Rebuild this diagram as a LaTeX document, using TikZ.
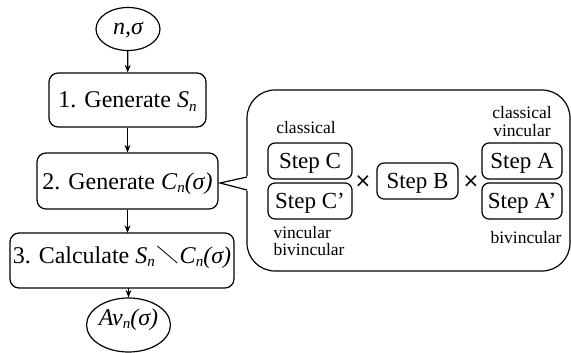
\documentclass[tikz,border=0pt]{standalone}
\usepackage{fontspec}
\setmainfont{Liberation Serif}
\newfontfamily\symfont{DejaVu Sans}
\usetikzlibrary{shapes.geometric,arrows.meta}
\newcommand\sbs[1]{\raisebox{-3pt}{\fontsize{15}{15}\selectfont\itshape #1}}
\newcommand\slantbar{\kern2pt\tikz[baseline=0pt]\draw[line width=0.8pt] (0pt,17pt) -- (20pt,0pt);\kern2pt}
\begin{document}
\begin{tikzpicture}[x=1pt,y=-1pt, line width=1.2pt,
  big/.style={font=\fontsize{24}{26}\selectfont},
  proc/.style={draw, rounded corners=9pt, big, inner sep=0pt, text height=16pt, text depth=0pt},
  stepbox/.style={draw, rounded corners=7pt, inner sep=0pt, minimum height=36pt, font=\fontsize{23}{25}\selectfont, text height=15pt, text depth=0pt},
  term/.style={draw, ellipse, inner sep=0pt, big},
  lbl/.style={font=\fontsize{17.5}{14}\selectfont, inner sep=0pt, anchor=base},
  arr/.style={-{Stealth[length=7.5pt,width=6pt]}},
  timesym/.style={font=\symfont\fontsize{20}{20}\selectfont, inner sep=0pt}
]
\useasboundingbox (0,0) rectangle (571,353);

% left flow
\node[term, minimum width=64pt, minimum height=43pt, text height=11pt, text depth=0pt] (in) at (128,29) {\itshape n,σ};
\node[proc, minimum width=157pt, minimum height=54pt] (b1) at (127.5,100) {1. Generate \textit{S}\sbs{n}};
\node[proc, minimum width=181pt, minimum height=56pt] (b2) at (127.5,181) {2. Generate \textit{C}\sbs{n}\textit{(σ)}};
\node[draw, rounded corners=9pt, big, inner sep=0pt, minimum width=224pt, minimum height=55pt, text height=20pt, text depth=15pt] (b3) at (122,260.5) {3. Calculate \textit{S}\sbs{n}\slantbar\textit{C}\sbs{n}\textit{(σ)}};
\node[term, minimum width=83pt, minimum height=54pt, text height=17pt, text depth=17pt] (out) at (128.5,325) {\textit{Av}\sbs{n}\textit{(σ)}};

\draw[arr] (in) -- (b1);
\draw[arr] (b1) -- (b2);
\draw[arr] (b2.south) -- (b2.south |- b3.north);
\draw[arr] (out.north |- b3.south) -- (out.north);

% callout
\node[draw, fill=white, rounded corners=28pt, minimum width=323pt, minimum height=181pt, inner sep=0pt] (callout) at (408.5,180.5) {};
\coordinate (tip) at (220,183);
\coordinate (pa) at (247,177);
\coordinate (pb) at (247,190);
\fill[white] (248.5,176) -- (tip) -- (248.5,191) -- cycle;
\draw[line join=miter] (pa) -- (tip) -- (pb);

% steps
\node[stepbox, minimum width=84pt] (sc) at (310,161) {Step C};
\node[stepbox, minimum width=84pt] (sc2) at (310,201) {Step C’};
\node[stepbox, minimum width=81pt] (sb) at (417.5,181) {Step B};
\node[stepbox, minimum width=80pt] (sa) at (522,161) {Step A};
\node[stepbox, minimum width=80pt] (sa2) at (522,201) {Step A’};
\node[timesym] (x1) at (363,182) {×};
\node[timesym] (x2) at (471,182) {×};

% labels
\node[lbl] (l1) at (306,134) {classical};
\node[lbl, anchor=base west] (l2) at (273,238) {vincular};
\node[lbl, anchor=base west] (l3) at (273,255) {bivincular};
\node[lbl] (l4) at (522,119) {classical};
\node[lbl] (l5) at (522,136) {vincular};
\node[lbl] (l6) at (526,243) {bivincular};
\end{tikzpicture}
\end{document}
